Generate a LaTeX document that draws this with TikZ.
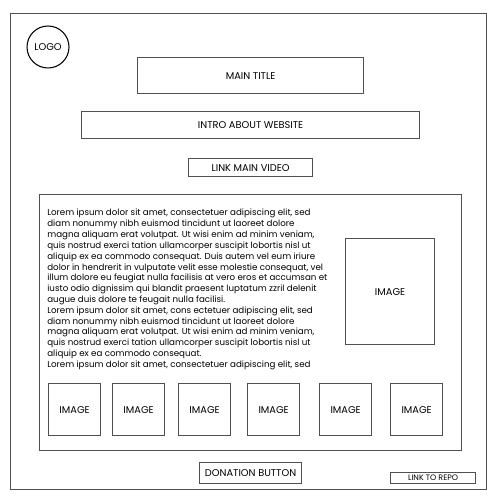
\documentclass[tikz,border=0pt]{standalone}
\usepackage{fontspec}
\setmainfont{Poppins}
\definecolor{wire}{HTML}{505050}
\begin{document}
\begin{tikzpicture}[x=0.02cm, y=-0.02cm, font=\fontsize{5.6}{6}\selectfont,
	box/.style={draw=wire, line width=0.7pt, inner sep=0pt, anchor=north west},
	wh/.style 2 args={minimum width=#1*0.2mm, minimum height=#2*0.2mm}]
	\useasboundingbox (0,0) rectangle (500,500);

	\node[box, wh={476}{476}] (page) at (10,13) {};
	\node[draw=black, line width=0.6pt, circle, inner sep=0pt, minimum size=42*0.2mm] (logo) at (48,47) {LOGO};

	\node[box, wh={226}{36}] (title) at (137,57) {MAIN TITLE};
	\node[box, wh={338}{27}] (intro) at (81,111) {INTRO ABOUT WEBSITE};
	\node[box, wh={124}{18}] (video) at (188,158) {LINK MAIN VIDEO};

	\node[box, wh={422}{256}] (content) at (39,194) {};
	\node[inner sep=0pt, anchor=north west, align=left, font=\fontsize{4.95}{6.15}\selectfont] (lorem) at (47,209) {%
		Lorem ipsum dolor sit amet, consectetuer adipiscing elit, sed\\
		diam nonummy nibh euismod tincidunt ut laoreet dolore\\
		magna aliquam erat volutpat. Ut wisi enim ad minim veniam,\\
		quis nostrud exerci tation ullamcorper suscipit lobortis nisl ut\\
		aliquip ex ea commodo consequat. Duis autem vel eum iriure\\
		dolor in hendrerit in vulputate velit esse molestie consequat, vel\\
		illum dolore eu feugiat nulla facilisis at vero eros et accumsan et\\
		iusto odio dignissim qui blandit praesent luptatum zzril delenit\\
		augue duis dolore te feugait nulla facilisi.\\
		Lorem ipsum dolor sit amet, cons ectetuer adipiscing elit, sed\\
		diam nonummy nibh euismod tincidunt ut laoreet dolore\\
		magna aliquam erat volutpat. Ut wisi enim ad minim veniam,\\
		quis nostrud exerci tation ullamcorper suscipit lobortis nisl ut\\
		aliquip ex ea commodo consequat.\\
		Lorem ipsum dolor sit amet, consectetuer adipiscing elit, sed};
	\node[box, wh={89}{106}] (bigimg) at (345,238) {IMAGE};

	\foreach \x [count=\i] in {48,112,178,247,319,390}
		\node[box, wh={52}{52}] (img\i) at (\x,383) {IMAGE};

	\node[box, wh={102}{21}] (donate) at (199,462) {DONATION BUTTON};
	\node[box, wh={85}{11}, font=\fontsize{4.5}{5}\selectfont] (repo) at (390,472) {LINK TO REPO};
\end{tikzpicture}
\end{document}
